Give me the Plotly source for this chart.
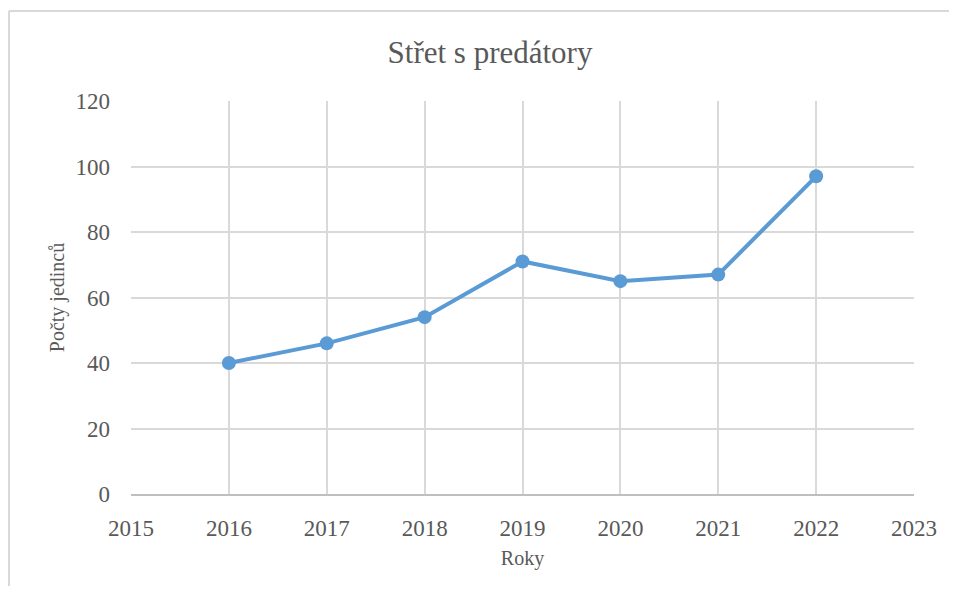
import plotly.graph_objects as go

years = [2016, 2017, 2018, 2019, 2020, 2021, 2022]
counts = [40, 46, 54, 71, 65, 67, 97]

x_ticks = list(range(2015, 2024))
y_ticks = [0, 20, 40, 60, 80, 100, 120]

BLUE = "#5B9BD5"
INK = "#595959"
GRID = "#D9D9D9"
FONT = "Liberation Serif"

fig = go.Figure(go.Scatter(
    x=years, y=counts, mode="lines+markers",
    line=dict(color=BLUE, width=4),
    marker=dict(size=14, color=BLUE),
    hoverinfo="x+y",
))

# the page body adds an 8px margin; figure is shrunk so no scrollbars appear
W, H = 941, 578
fig.update_layout(
    width=W, height=H,
    paper_bgcolor="white", plot_bgcolor="white",
    font=dict(family=FONT, color=INK, size=23),
    margin=dict(l=123, r=35, t=93, b=92),
    showlegend=False,
    title=dict(text="Střet s predátory", x=482 / W, xanchor="center",
               y=1 - 44 / H, yanchor="middle",
               font=dict(family=FONT, size=31, color=INK)),
    xaxis=dict(range=[2015, 2023], tickvals=x_ticks, showgrid=True,
               gridcolor=GRID, gridwidth=2, zeroline=False,
               showline=True, linecolor="#BFBFBF", linewidth=2,
               ticks="", ticklabelstandoff=12,
               title=dict(text="Roky", font=dict(size=20, color=INK), standoff=11)),
    yaxis=dict(range=[0, 120], tickvals=y_ticks, showgrid=True,
               gridcolor=GRID, gridwidth=2, zeroline=False,
               showline=False, ticks="", ticklabelstandoff=20,
               title=dict(text="Počty jedinců", font=dict(size=20, color=INK), standoff=5)),
)

# outer chart-frame edges (visible on top and left)
fx = -122 / 783
fy = (93 + 393 - 3) / 393
right = (W - 123) / 783
fig.add_shape(type="line", xref="paper", yref="paper",
              x0=fx, x1=right, y0=fy, y1=fy, line=dict(color=GRID, width=2))
fig.add_shape(type="line", xref="paper", yref="paper",
              x0=fx, x1=fx, y0=-92 / 393, y1=fy, line=dict(color=GRID, width=2))

fig.write_html("out.html")
